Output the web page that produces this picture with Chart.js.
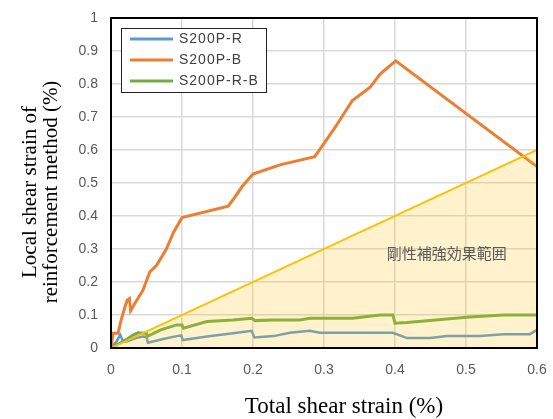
<!DOCTYPE html>
<html lang="en">
<head>
<meta charset="UTF-8" />
<title>Local vs total shear strain</title>
<style>
  html,body{margin:0;background:#fff}
  #wrap{width:553px;height:419px}
</style>
</head>
<body>
<div id="wrap"><canvas id="c" width="553" height="419"></canvas></div>
<script src="https://cdn.jsdelivr.net/npm/chart.js"></script>
<script>
// S200P-R (blue)
const rX = [0, 0.008, 0.013, 0.017, 0.022, 0.035, 0.045, 0.05, 0.052, 0.075, 0.0925, 0.099, 0.101, 0.135, 0.172, 0.198, 0.202, 0.229, 0.252, 0.266, 0.28, 0.294, 0.397, 0.417, 0.45, 0.473, 0.52, 0.553, 0.59, 0.6];
const rY = [0, 0.02, 0.04, 0.02, 0.02, 0.03, 0.035, 0.033, 0.016, 0.028, 0.036, 0.038, 0.024, 0.035, 0.045, 0.052, 0.032, 0.036, 0.046, 0.049, 0.052, 0.046, 0.046, 0.03, 0.03, 0.036, 0.036, 0.042, 0.042, 0.055];
// S200P-B (orange)
const bX = [0, 0.003, 0.01, 0.0137, 0.0197, 0.023, 0.026, 0.0277, 0.035, 0.045, 0.0545, 0.064, 0.078, 0.088, 0.1, 0.165, 0.172, 0.185, 0.2, 0.238, 0.287, 0.313, 0.34, 0.365, 0.379, 0.401, 0.6];
const bY = [0, 0.045, 0.045, 0.08, 0.125, 0.145, 0.15, 0.113, 0.14, 0.175, 0.23, 0.25, 0.3, 0.35, 0.395, 0.43, 0.45, 0.49, 0.527, 0.555, 0.58, 0.66, 0.75, 0.79, 0.83, 0.87, 0.55];
// S200P-R-B (green)
const rbX = [0, 0.013, 0.025, 0.031, 0.038, 0.05, 0.051, 0.07, 0.0925, 0.1, 0.102, 0.135, 0.172, 0.198, 0.203, 0.229, 0.266, 0.28, 0.34, 0.379, 0.397, 0.4, 0.417, 0.505, 0.553, 0.6];
const rbY = [0, 0.015, 0.03, 0.039, 0.046, 0.044, 0.035, 0.055, 0.07, 0.07, 0.06, 0.08, 0.085, 0.09, 0.083, 0.085, 0.085, 0.09, 0.09, 0.1, 0.1, 0.075, 0.077, 0.094, 0.1, 0.1];
// rigid reinforcement zone (y = x)
const zoneX = [0, 0.6];
const zoneY = [0, 0.6];
const zoneLabel = '剛性補強効果範囲';
const zoneLabelAt = [0.473, 0.288];

const xTicks = [0, 0.1, 0.2, 0.3, 0.4, 0.5, 0.6];
const yTicks = [0, 0.1, 0.2, 0.3, 0.4, 0.5, 0.6, 0.7, 0.8, 0.9, 1];
const xTitle = 'Total shear strain (%)';
const yTitle = ['Local shear strain of', 'reinforcement method (%)'];

const pts = (xs, ys) => xs.map((x, i) => ({ x, y: ys[i] }));
const tickFont = { family: "'Liberation Sans', Arial, sans-serif", size: 14 };
const serif = "'Liberation Serif', 'Times New Roman', serif";

// box around the plot area
const frame = {
  id: 'frame',
  afterDatasetsDraw(chart) {
    const { ctx, chartArea: a } = chart;
    ctx.save();
    ctx.strokeStyle = '#000';
    ctx.lineWidth = 2;
    ctx.strokeRect(a.left, a.top, a.right - a.left, a.bottom - a.top);
    ctx.restore();
  }
};

// zone caption, placed in data units
const zoneText = {
  id: 'zoneText',
  afterDatasetsDraw(chart) {
    const { ctx, scales: { x, y } } = chart;
    ctx.save();
    ctx.font = "15px 'Noto Sans CJK JP', sans-serif";
    ctx.fillStyle = '#595959';
    ctx.textAlign = 'center';
    ctx.textBaseline = 'middle';
    ctx.fillText(zoneLabel, x.getPixelForValue(zoneLabelAt[0]), y.getPixelForValue(zoneLabelAt[1]));
    ctx.restore();
  }
};

// boxed legend in the top-left corner of the plot
const boxLegend = {
  id: 'boxLegend',
  afterDraw(chart) {
    const { ctx, chartArea: a } = chart;
    const items = chart.data.datasets.filter(d => d.label);
    const left = a.left + 10, top = a.top + 10, w = 145, rowH = 21;
    const h = items.length * rowH + 1;
    ctx.save();
    ctx.fillStyle = '#fff';
    ctx.fillRect(left, top, w, h);
    ctx.strokeStyle = '#222';
    ctx.lineWidth = 1;
    ctx.strokeRect(left + 0.5, top + 0.5, w, h);
    ctx.font = tickFont.size + 'px ' + tickFont.family;
    ctx.letterSpacing = '1px';
    ctx.textBaseline = 'middle';
    ctx.fillStyle = '#404040';
    items.forEach((d, i) => {
      const cy = top + 11 + i * rowH;
      ctx.strokeStyle = d.borderColor;
      ctx.lineWidth = 3;
      ctx.beginPath();
      ctx.moveTo(left + 9, cy);
      ctx.lineTo(left + 52, cy);
      ctx.stroke();
      ctx.fillText(d.label, left + 58, cy);
    });
    ctx.restore();
  }
};

// axis titles
const axisTitles = {
  id: 'axisTitles',
  afterDraw(chart) {
    const { ctx, chartArea: a } = chart;
    ctx.save();
    ctx.fillStyle = '#000';
    ctx.font = '23px ' + serif;
    ctx.textAlign = 'center';
    ctx.textBaseline = 'middle';
    ctx.fillText(xTitle, (a.left + a.right) / 2 + 20, a.bottom + 59);
    ctx.font = '21px ' + serif;
    ctx.translate(30, (a.top + a.bottom) / 2 + 9);
    ctx.rotate(-Math.PI / 2);
    yTitle.forEach((t, i) => ctx.fillText(t, 0, i * 21));
    ctx.restore();
  }
};

new Chart(document.getElementById('c'), {
  type: 'scatter',
  data: {
    datasets: [
      { data: pts(zoneX, zoneY), showLine: true, borderColor: '#FFC000', borderWidth: 2, backgroundColor: 'rgba(255,192,0,0.2)', fill: 'origin', pointRadius: 0, order: 0 },
      { label: 'S200P-R', data: pts(rX, rY), showLine: true, borderColor: '#5B9BD5', borderWidth: 2.5, pointRadius: 0, fill: false, order: 3 },
      { label: 'S200P-B', data: pts(bX, bY), showLine: true, borderColor: '#ED7D31', borderWidth: 3, pointRadius: 0, fill: false, order: 2 },
      { label: 'S200P-R-B', data: pts(rbX, rbY), showLine: true, borderColor: '#70AD47', borderWidth: 3, pointRadius: 0, fill: false, order: 1 }
    ]
  },
  options: {
    responsive: false,
    animation: false,
    devicePixelRatio: 1,
    layout: { padding: { top: 18, right: 16, left: 0, bottom: 0 } },
    plugins: { legend: { display: false }, tooltip: { enabled: false } },
    scales: {
      x: {
        type: 'linear', min: 0, max: 0.6,
        afterFit: s => { s.height = 71; s.paddingLeft = 0; s.paddingRight = 0; },
        afterBuildTicks: s => { s.ticks = xTicks.map(v => ({ value: v })); },
        ticks: { font: tickFont, color: '#595959', padding: 14, callback: v => String(+v.toFixed(1)) },
        grid: { color: '#d9d9d9', lineWidth: 1.5, drawTicks: false },
        border: { display: false }
      },
      y: {
        min: 0, max: 1,
        afterFit: s => { s.width = 111; s.paddingTop = 0; s.paddingBottom = 0; },
        afterBuildTicks: s => { s.ticks = yTicks.map(v => ({ value: v })); },
        ticks: { font: tickFont, color: '#595959', padding: 13, callback: v => String(+v.toFixed(1)) },
        grid: { color: '#d9d9d9', lineWidth: 1.5, drawTicks: false },
        border: { display: false }
      }
    }
  },
  plugins: [frame, zoneText, boxLegend, axisTitles]
});
</script>
</body>
</html>
